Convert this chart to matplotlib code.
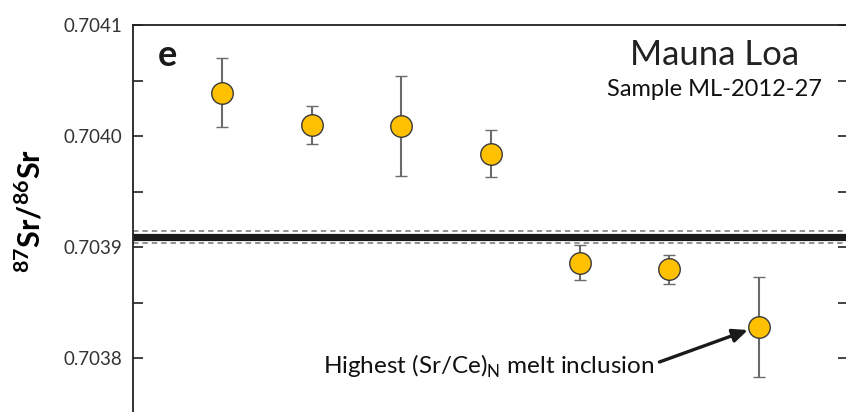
import matplotlib
matplotlib.use('Agg')
import matplotlib.pyplot as plt
from matplotlib.ticker import MultipleLocator, FormatStrFormatter

# Sr isotope ratios of olivine-hosted melt inclusions, ML-2012-27
inclusion = [1, 2, 3, 4, 5, 6, 7]
sr_ratio = [0.704039, 0.704010, 0.704009, 0.703984, 0.703886, 0.703880, 0.703828]
sr_err = [0.000031, 0.000017, 0.000045, 0.000021, 0.000016, 0.000013, 0.000045]

# whole-rock value with its uncertainty band
wr_ratio = 0.7039093
wr_low = 0.7039033
wr_high = 0.7039147

plt.rcParams['font.family'] = ['Lato', 'DejaVu Sans']
plt.rcParams['mathtext.fontset'] = 'custom'
plt.rcParams['mathtext.rm'] = 'Lato'
plt.rcParams['mathtext.bf'] = 'Lato:bold'

fig = plt.figure(figsize=(8.46, 4.12), dpi=100)
# axes run past the right and bottom edges of the figure
ax = fig.add_axes([133/846, (412 - 424.6)/412, 715/846, 399.6/412])

ax.axhline(wr_ratio, color='#1a1a1a', lw=5.2, zorder=2)
for v in (wr_low, wr_high):
    ax.axhline(v, color='#8a8a8a', lw=1.3, ls=(0, (3, 2.2)), zorder=2)

ax.errorbar(inclusion, sr_ratio, yerr=sr_err, fmt='o', ms=15.5,
            mfc='#ffc000', mec='#3a3a3a', mew=1.0,
            ecolor='#6a6a6a', elinewidth=1.5, capsize=4.5, capthick=1.5,
            zorder=3)

ax.set_xlim(0, 8)
ax.set_ylim(0.70374, 0.7041)
ax.yaxis.set_major_locator(MultipleLocator(0.0001))
ax.yaxis.set_minor_locator(MultipleLocator(0.00005))
ax.yaxis.set_major_formatter(FormatStrFormatter('%.4f'))
ax.tick_params(axis='y', which='both', direction='in', length=7.5, width=1.2,
               color='#222222', right=True, labelsize=13.5, labelcolor='#333333',
               pad=8)
ax.tick_params(axis='x', which='both', bottom=False, labelbottom=False)
for s in ax.spines.values():
    s.set_color('#222222')
    s.set_linewidth(1.3)

ax.set_ylabel(r'$\mathbf{^{87}Sr/^{86}Sr}$', fontsize=22)
ax.yaxis.set_label_coords(-88/715, (424.6 - 211) / 399.6)

ax.text(158/846, 1 - 55/412, 'e', transform=fig.transFigure, fontsize=26,
        fontweight='bold', color='#1a1a1a', ha='left', va='center')
ax.text(715/846, 1 - 55/412, 'Mauna Loa', transform=fig.transFigure,
        fontsize=25, color='#222222', ha='center', va='center')
ax.text(714/846, 1 - 89/412, 'Sample ML-2012-27', transform=fig.transFigure,
        fontsize=17, color='#111111', ha='center', va='center')

ax.text(654/846, 1 - 366/412, r'Highest (Sr/Ce)$_{\mathregular{N}}$ melt inclusion',
        transform=fig.transFigure, fontsize=17.5, color='#111111',
        ha='right', va='center')
ax.annotate('', xy=(6.88, 0.7038252), xytext=(5.89, 0.7037964),
            arrowprops=dict(arrowstyle='-|>,head_length=0.9,head_width=0.4',
                            color='#1a1a1a', lw=2.4, shrinkA=0, shrinkB=0))

fig.savefig('out.png', dpi=100)
